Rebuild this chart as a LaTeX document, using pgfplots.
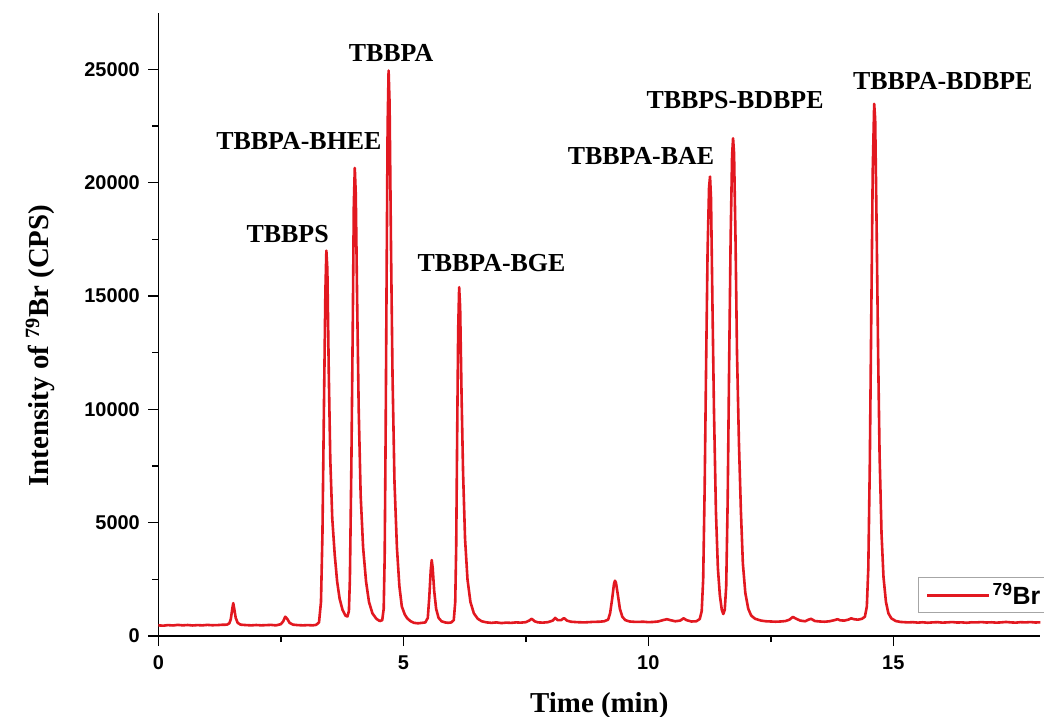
\documentclass[border=0pt]{standalone}
\usepackage{pgfplots}
\pgfplotsset{compat=1.18}
\usepackage{fontspec}
\setmainfont{Liberation Serif}
\setsansfont{Liberation Sans}
\definecolor{trace}{RGB}{226,24,32}
\begin{document}
\begin{tikzpicture}
\begin{axis}[
  at={(0,0)}, anchor=south west,
  scale only axis, width=882bp, height=623.3bp,
  xmin=0, xmax=18, ymin=0, ymax=27500,
  axis x line=bottom, axis y line=left,
  axis line style={-, line width=1.5bp, black},
  xtick={0,5,10,15}, ytick={0,5000,10000,15000,20000,25000},
  minor x tick num=1, minor y tick num=1,
  tick align=outside,
  major tick length=10bp, minor tick length=6bp,
  every tick/.style={black, line width=1.5bp},
  scaled y ticks=false,
  /pgf/number format/assume math mode=true,
  /pgf/number format/1000 sep={},
  ticklabel style={font=\sffamily\bfseries\fontsize{20}{24}\selectfont},
  xticklabel style={yshift=-6bp},
  yticklabel style={xshift=-5bp},
  xlabel={Time (min)},
  xlabel style={font=\bfseries\fontsize{29}{34}\selectfont, at={(axis description cs:0.5,0)}, anchor=base, yshift=-76bp},
  ylabel={Intensity of \textsuperscript{79}Br (CPS)},
  ylabel style={font=\bfseries\fontsize{29}{34}\selectfont, at={(axis description cs:-0.134,0.466)}, anchor=center},
  legend style={at={(axis cs:15.51,2590)}, anchor=north west, draw=gray!70, line width=0.8bp,
    font=\sffamily\bfseries\fontsize{25}{28}\selectfont, inner xsep=7bp, inner ysep=4bp,
    nodes={inner xsep=2bp, inner ysep=2bp}},
  legend image code/.code={\draw[#1, line width=3bp] (0bp,0bp) -- (62bp,0bp);},
]
\addplot[trace, line width=2.6bp, line join=round] coordinates {
(0,470) (0.1,455) (0.2,480) (0.3,465) (0.4,490) (0.5,470) (0.6,485) (0.7,465) (0.8,480) (0.9,470) (1.0,490) (1.1,475) (1.2,480) (1.3,495) (1.4,500)
(1.45,560) (1.48,750) (1.51,1200) (1.53,1450) (1.55,1200) (1.58,800) (1.62,580) (1.68,500)
(1.8,480) (1.9,470) (2.0,485) (2.1,470) (2.2,480) (2.3,490) (2.4,470) (2.5,520)
(2.55,650) (2.59,850) (2.63,760) (2.68,580) (2.75,500) (2.85,480) (2.95,470) (3.05,480) (3.15,470) (3.22,490)
(3.28,600) (3.32,1500) (3.35,4500) (3.38,10000) (3.41,15200) (3.43,17000) (3.45,16200) (3.48,11500) (3.51,7800) (3.55,5200) (3.60,3600) (3.65,2400) (3.70,1650) (3.76,1150) (3.82,900) (3.86,860)
(3.89,1100) (3.91,2500) (3.94,7500) (3.97,14000) (3.99,19000) (4.01,20650) (4.03,19500) (4.06,14500) (4.09,10000) (4.13,6200) (4.18,3900) (4.24,2400) (4.30,1500) (4.37,1000) (4.45,760) (4.52,660) (4.57,700)
(4.60,1200) (4.62,3500) (4.64,9000) (4.66,16000) (4.68,22500) (4.70,24950) (4.72,23500) (4.75,17000) (4.78,11500) (4.82,6800) (4.87,3900) (4.92,2200) (4.97,1300) (5.03,950) (5.08,780) (5.15,650) (5.22,580) (5.30,560) (5.38,580) (5.45,600)
(5.50,800) (5.53,1700) (5.56,2900) (5.58,3350) (5.60,3000) (5.63,2000) (5.67,1200) (5.72,800) (5.78,650) (5.85,600) (5.92,580) (5.98,600) (6.03,700)
(6.06,1500) (6.08,4000) (6.10,9000) (6.12,13500) (6.14,15390) (6.16,14500) (6.19,10500) (6.22,7200) (6.26,4300) (6.31,2500) (6.37,1500) (6.44,1000) (6.52,760) (6.60,650) (6.70,600) (6.80,580) (6.9,600) (7.0,570) (7.1,590) (7.2,580) (7.3,600) (7.4,590) (7.5,610)
(7.57,680) (7.62,760) (7.68,650) (7.75,600) (7.85,590) (7.95,610) (8.05,680) (8.1,800) (8.15,700) (8.22,700) (8.28,790) (8.34,680) (8.42,630) (8.55,610) (8.7,600) (8.85,620) (9.0,630) (9.1,650) (9.18,720)
(9.22,1000) (9.26,1600) (9.30,2300) (9.32,2440) (9.34,2350) (9.38,1800) (9.42,1200) (9.47,850) (9.53,700) (9.62,640) (9.75,620) (9.9,630) (10.0,610) (10.1,620) (10.2,640) (10.3,700) (10.38,740) (10.45,700) (10.55,650) (10.65,680) (10.72,780) (10.78,700) (10.88,640) (10.98,650) (11.05,750)
(11.09,1100) (11.12,2500) (11.15,6500) (11.18,12000) (11.21,17000) (11.24,19800) (11.26,20270) (11.28,19300) (11.31,14500) (11.34,10000) (11.38,5500) (11.42,3000) (11.46,1800) (11.50,1150) (11.53,970)
(11.56,1150) (11.59,2200) (11.62,6000) (11.65,12000) (11.68,17500) (11.71,21200) (11.73,21960) (11.75,21300) (11.78,17500) (11.81,12500) (11.85,8500) (11.89,5500) (11.93,3200) (11.98,1900) (12.04,1200) (12.10,900) (12.18,760)
(12.3,680) (12.4,650) (12.5,640) (12.6,630) (12.7,640) (12.8,660) (12.88,720) (12.95,840) (13.02,760) (13.1,680) (13.2,650) (13.27,720) (13.32,760) (13.4,660) (13.5,640) (13.6,630) (13.7,650) (13.8,700) (13.86,740) (13.92,690) (14.0,680) (14.08,720) (14.14,780) (14.2,740) (14.28,720) (14.36,760) (14.42,850)
(14.46,1300) (14.49,3000) (14.52,7500) (14.55,14000) (14.58,20500) (14.61,23480) (14.63,22800) (14.66,18000) (14.69,12500) (14.72,8000) (14.76,4500) (14.80,2600) (14.85,1500) (14.90,1000) (14.96,780) (15.05,660) (15.15,620) (15.3,600)
(15.4,610) (15.5,590) (15.6,605) (15.7,585) (15.8,600) (15.9,610) (16.0,590) (16.1,600) (16.2,615) (16.3,595) (16.4,600) (16.5,585) (16.6,605) (16.7,600) (16.8,615) (16.9,595) (17.0,605) (17.1,590) (17.2,600) (17.3,620) (17.4,600) (17.5,590) (17.6,610) (17.7,600) (17.8,615) (17.9,595) (18.0,605)
};
\addlegendentry{\textsuperscript{79}Br}
\node[font=\bfseries\fontsize{26}{30}\selectfont, anchor=base] at (axis cs:2.64,17343) {TBBPS};
\node[font=\bfseries\fontsize{26}{30}\selectfont, anchor=base] at (axis cs:2.87,21447) {TBBPA-BHEE};
\node[font=\bfseries\fontsize{26}{30}\selectfont, anchor=base] at (axis cs:4.75,25344) {TBBPA};
\node[font=\bfseries\fontsize{26}{30}\selectfont, anchor=base] at (axis cs:6.80,16077) {TBBPA-BGE};
\node[font=\bfseries\fontsize{26}{30}\selectfont, anchor=base] at (axis cs:9.85,20785) {TBBPA-BAE};
\node[font=\bfseries\fontsize{26}{30}\selectfont, anchor=base] at (axis cs:11.77,23288) {TBBPS-BDBPE};
\node[font=\bfseries\fontsize{26}{30}\selectfont, anchor=base] at (axis cs:16.01,24095) {TBBPA-BDBPE};
\end{axis}
\pgfresetboundingbox
\path (-158.3bp,-81bp) rectangle (885.7bp,636bp);
\end{tikzpicture}
\end{document}
